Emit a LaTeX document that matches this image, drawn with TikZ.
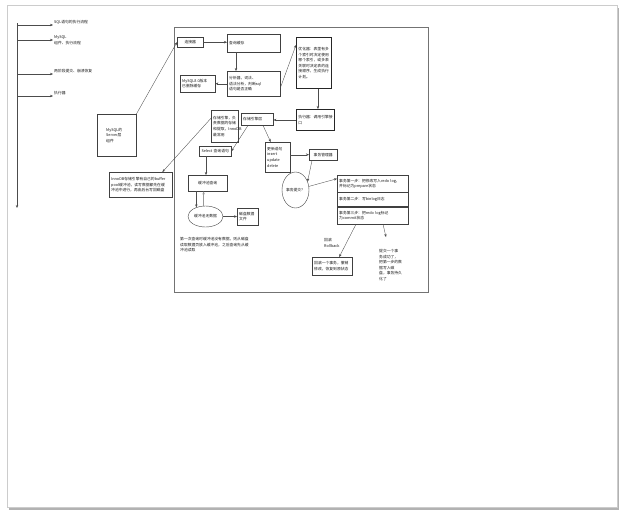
\documentclass[tikz,border=0pt]{standalone}
\usepackage{fontspec}
\setmainfont{Noto Sans CJK SC}
\usepackage{xcolor}
\usepackage{tikz}
\usetikzlibrary{arrows.meta}
\usetikzlibrary{shapes.geometric, positioning}

\begin{document}
\begin{tikzpicture}[x=1pt, y=-1pt,
        every node/.style={font=\fontsize{3.8pt}{5.6pt}\selectfont, text=black!90},
        box/.style={draw=black!75, line width=0.4pt, anchor=north west, inner sep=2pt, align=left},
        bbox/.style={box, line width=0.9pt, draw=black!85},
        oval/.style={ellipse, draw=black!75, line width=0.4pt, inner sep=0pt},
        lbl/.style={inner sep=1pt, align=left},
        arr/.style={draw=black!70, line width=0.35pt, -{Stealth[length=3pt, width=2.4pt]}}]
        \useasboundingbox (0,0) rectangle (626,517);
        
        % Seite mit Schatten
        \fill[black!30] (9,8) rectangle (619,510);
        \filldraw[fill=white, draw=black!20, line width=0.4pt] (7,5) rectangle (617,507);
        
        % Liste links
        \coordinate (spine) at (17,23);
        \coordinate (spineend) at (17,208);
        \draw[arr, line width=0.6pt] (spine) -- (spineend);
        \node[lbl, anchor=south west] (l1) at (53,25) {SQL语句的执行流程};
        \node[lbl, anchor=west] (l2) at (53,40) {MySQL\\组件、执行流程};
        \node[lbl, anchor=south west] (l3) at (53,74) {两阶段提交、崩溃恢复};
        \node[lbl, anchor=south west] (l4) at (53,96) {执行器};
        \draw[arr] (spine |- l1.south west) -- (l1.south west);
        \draw[arr] (spine |- l2.west) -- (l2.west);
        \draw[arr] (spine |- l3.south west) -- (l3.south west);
        \draw[arr] (spine |- l4.south west) -- (l4.south west);
        
        \node[box, inner xsep=9pt, text width=21pt, minimum height=42pt] (mysql) at (97,114) {MySQL的\\Server层\\组件};
        
        % Rahmen
        \draw[black!55, line width=0.5pt] (174,27) rectangle (428,292);
        
        % Server-Schicht
        \node[box, align=center, text width=22pt, minimum height=10pt] (conn) at (177,37) {连接器};
        \node[box, text width=49pt, minimum height=18pt] (cache) at (227,34) {查询缓存};
        \node[box, text width=49pt, minimum height=25pt] (parser) at (227,71) {分析器，词法、\\语法分析，判断sql\\语句是否正确};
        \node[box, text width=31pt, minimum height=17pt] (note) at (180,75) {MySQL8.0版本\\已删除缓存};
        \node[bbox, text width=31pt, minimum height=51pt] (opt) at (296,37) {优化器：表里有多\\个索引时决定使用\\哪个索引，或多表\\关联时决定表的连\\接顺序，生成执行\\计划。};
        \node[bbox, text width=34pt, minimum height=21pt] (exec) at (296,109) {执行器：调用引擎接\\口};
        
        % Speicher-Engine
        \node[box, text width=28pt, minimum height=12pt] (engine) at (241,113) {存储引擎层};
        \node[box, text width=23pt, minimum height=32pt] (anno) at (211,110) {存储引擎，负\\责数据的存储\\和提取，InnoDB\\最常用};
        \node[box, text width=59pt, minimum height=25pt] (pool) at (109,172) {InnoDB存储引擎有自己的buffer\\pool缓冲池，读写数据都先在缓\\冲池中进行，再由后台写回磁盘};
        \node[box, align=center, text width=28pt, minimum height=10pt] (select) at (199,146) {Select 查询语句};
        \node[box, text width=21pt, minimum height=30pt] (update) at (265,142) {更新语句\\insert\\update\\delete};
        \node[box, align=center, text width=24pt, minimum height=11pt] (txm) at (309,149) {事务管理器};
        
        % Lesen
        \node[box, align=center, text width=35pt, minimum height=16pt] (buffer) at (188,175) {缓冲池查询};
        \node[oval, minimum width=35pt, minimum height=21pt] (miss) at (205.5,216.5) {缓冲池无数据};
        \node[box, text width=17pt, minimum height=17pt] (disk) at (237,208) {磁盘数据\\文件};
        \node[lbl, anchor=north west, text width=70pt] (readnote) at (179,236) {第一次查询时缓冲池没有数据，则从磁盘\\读取数据页放入缓冲池，之后查询先从缓\\冲池读取};
        
        % Zwei-Phasen-Commit
        \node[oval, minimum width=27pt, minimum height=36pt] (commit) at (295.5,190) {事务提交？};
        \node[box, text width=67pt, minimum height=17pt] (step1) at (337,175) {事务第一步：把修改写入redo log，\\并标记为prepare状态};
        \node[box, text width=67pt, minimum height=14pt] (step2) at (step1.south west) {事务第二步：写binlog日志};
        \node[box, text width=67pt, minimum height=17pt] (step3) at (step2.south west) {事务第三步：把redo log标记\\为commit状态};
        \node[box, text width=36pt, minimum height=18pt] (rollback) at (312,257) {回滚一个事务，撤销\\修改，恢复到原状态};
        \node[lbl, anchor=north west] (rblabel) at (323,237) {回滚\\Rollback};
        \coordinate (okend) at (386,237);
        \node[lbl, anchor=north west] (oknote) at (378,248) {提交一个事\\务成功了，\\把第一步的数\\据写入磁\\盘，事务持久\\化了};
        
        % Verbindungen
        \draw[arr] (mysql.north east) -- (conn.west);
        \draw[arr] (conn.east) -- (conn.east -| cache.west);
        \draw[arr] ([xshift=9pt]cache.south west) -- ([xshift=9pt]parser.north west);
        \draw[arr] (parser.west) -- (note.east);
        \draw[arr] ([yshift=-4pt]parser.east) -- ([yshift=-8pt]opt.north west);
        \draw[arr] ([xshift=4pt]opt.south) -- ([xshift=4pt]opt.south |- exec.north);
        \draw[arr] (exec.west) -- (exec.west -| engine.east);
        \draw[arr] ([yshift=8pt]anno.west) -- ([xshift=-10pt]pool.north east);
        \draw[arr] ([xshift=7pt]engine.south west) -- (select.east);
        \draw[arr] ([xshift=22pt]engine.south west) -- ([xshift=-7pt]update.north);
        \draw[arr] ([xshift=7pt]select.south west) -- ([xshift=7pt]select.south west |- buffer.north);
        \draw[arr] (buffer.south -| miss.135) -- (miss.135);
        \draw[arr, draw=black!40] (miss.100) -- (miss.100 |- buffer.south);
        \draw[arr] (miss.east) -- (miss.east -| disk.west);
        \draw[arr] (update.east |- txm.west) -- (txm.west);
        \draw[arr] ([xshift=3pt]txm.south west) -- (commit.35);
        \draw[arr] (commit.15) -- ([yshift=5pt]step1.west);
        \draw[arr] ([xshift=19pt]step3.south west) -- ([xshift=7pt]rollback.north);
        \draw[arr] ([xshift=46pt]step3.south west) -- (okend);
    \end{tikzpicture}
\end{document}
